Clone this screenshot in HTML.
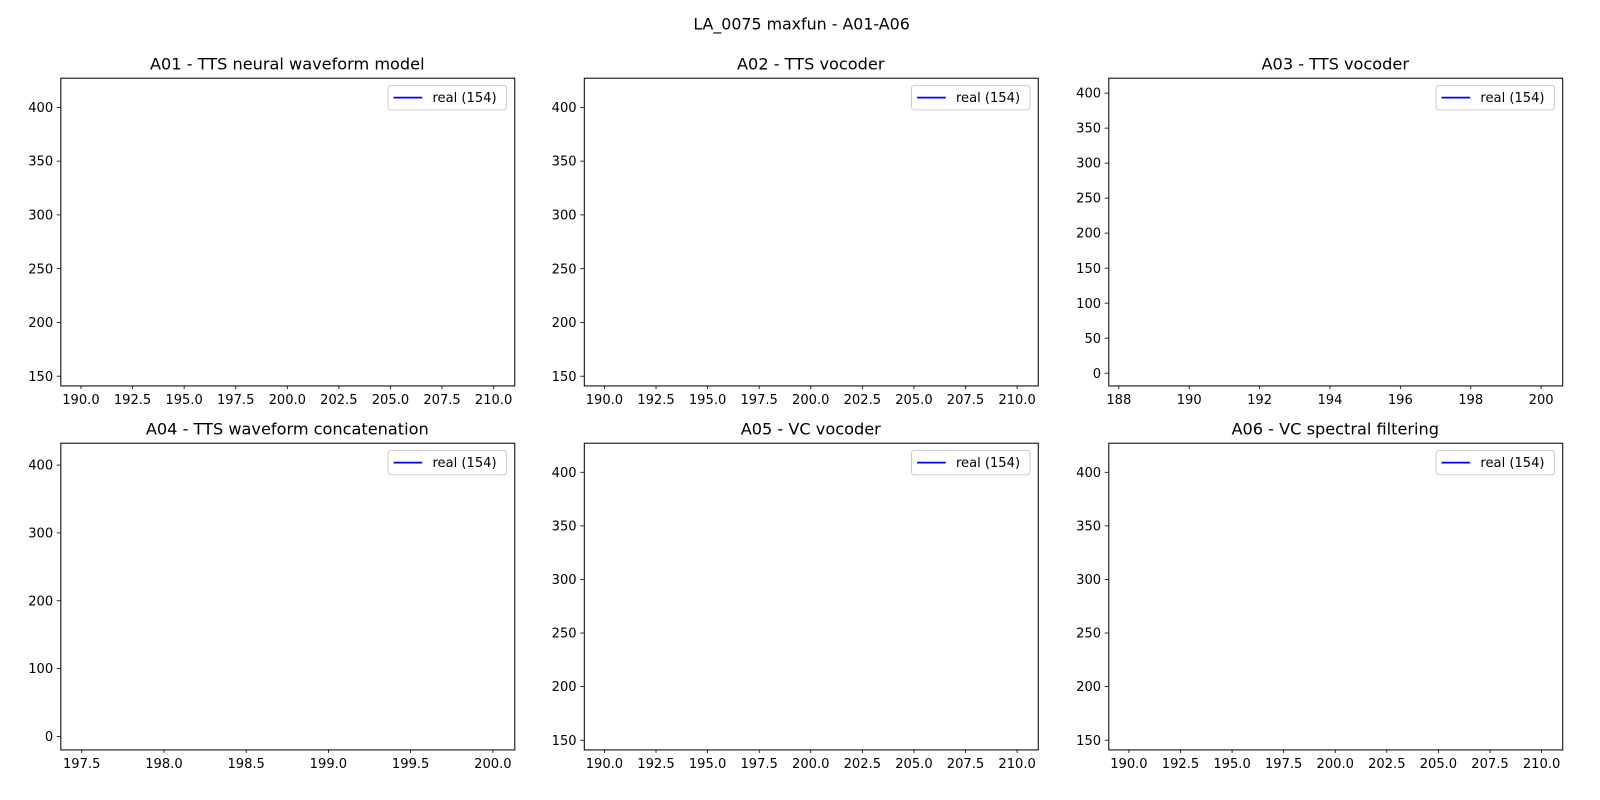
<!DOCTYPE html>
<html><head><meta charset="utf-8"><style>
body{margin:0;background:#fff}
svg{display:block;font-family:"DejaVu Sans","Liberation Sans",sans-serif}
</style></head><body>
<svg width="1600" height="800">
<g id="fig" transform="scale(1.0224)">
<text x="784" y="29" font-size="15.5" text-anchor="middle">LA_0075 maxfun - A01-A06</text>
</g>
</svg>
<script>
const panelTitles = ["A01 - TTS neural waveform model","A02 - TTS vocoder","A03 - TTS vocoder","A04 - TTS waveform concatenation","A05 - VC vocoder","A06 - VC spectral filtering"];
const legendLabels = ["real (154)","real (154)","real (154)","real (154)","real (154)","real (154)"];
const xTicks = [
 [190,192.5,195,197.5,200,202.5,205,207.5,210],
 [190,192.5,195,197.5,200,202.5,205,207.5,210],
 [188,190,192,194,196,198,200],
 [197.5,198,198.5,199,199.5,200],
 [190,192.5,195,197.5,200,202.5,205,207.5,210],
 [190,192.5,195,197.5,200,202.5,205,207.5,210]];
const xDec = [1,1,0,1,1,1];
const yTicks = [
 [150,200,250,300,350,400],[150,200,250,300,350,400],
 [0,50,100,150,200,250,300,350,400],[0,100,200,300,400],
 [150,200,250,300,350,400],[150,200,250,300,350,400]];
const xLims = [[189.0,211.0],[189.0,211.0],[187.7,200.6],[197.37,200.13],[189.0,211.0],[189.0,211.0]];
const yLims = [[141.4,427.6],[141.4,427.6],[-17.5,422],[-19.2,433],[141.4,427.6],[141.4,427.6]];
// empty series (no visible line in reference)
const seriesX = [[],[],[],[],[],[]];
const seriesY = [[],[],[],[],[],[]];

const NS="http://www.w3.org/2000/svg";
const svg=document.getElementById('fig');
function mk(t,a,p){const e=document.createElementNS(NS,t);for(const k in a)e.setAttribute(k,a[k]);(p||svg).appendChild(e);return e;}
const lefts=[59,571,1084], tops=[76,433], W=444, H=[301,300];
for(let i=0;i<6;i++){
 const L=lefts[i%3], T=tops[Math.floor(i/3)], h=H[Math.floor(i/3)];
 const g=mk('g',{});
 
 
 const xs=v=>L+(v-xLims[i][0])/(xLims[i][1]-xLims[i][0])*W;
 const ys=v=>T+h-(v-yLims[i][0])/(yLims[i][1]-yLims[i][0])*h;
 const tt=mk('text',{x:L+W/2,y:T-8,'font-size':15.8,'text-anchor':'middle'},g);tt.textContent=panelTitles[i];
 
 
 xTicks[i].forEach(v=>{const x=xs(v);mk('line',{x1:x,x2:x,y1:T+h,y2:T+h+3.5,stroke:'#000','stroke-width':0.8},g);
  const t=mk('text',{x:x,y:T+h+18,'font-size':12.8,'text-anchor':'middle'},g);t.textContent=v.toFixed(xDec[i]);
  
  });
 yTicks[i].forEach(v=>{const y=ys(v);mk('line',{x1:L-3.5,x2:L,y1:y,y2:y,stroke:'#000','stroke-width':0.8},g);
  const t=mk('text',{x:L-7,y:y+4.5,'font-size':12.8,'text-anchor':'end'},g);t.textContent=v;
  
  });
 if(seriesX[i].length){const p=mk('polyline',{fill:'none',stroke:'#0000ff','stroke-width':1.5,points:seriesX[i].map((x,j)=>xs(x)+','+ys(seriesY[i][j])).join(' ')},g);
  
  }
 const fr=mk('rect',{x:L+0.5,y:T+0.5,width:W,height:h,fill:'none',stroke:'#000','stroke-width':1},g);
 
 
 const lg=mk('g',{},g);
 
 
 mk('rect',{x:L+W-123.5,y:T+7.5,width:116,height:24,rx:3,fill:'#fff',stroke:'#ccc'},lg);
 mk('line',{x1:L+W-118,x2:L+W-90,y1:T+19.5,y2:T+19.5,stroke:'#0000ff','stroke-width':1.8},lg);
 const lt=mk('text',{x:L+W-80,y:T+24,'font-size':12.8},lg);lt.textContent=legendLabels[i];
}
</script>
</body></html>
